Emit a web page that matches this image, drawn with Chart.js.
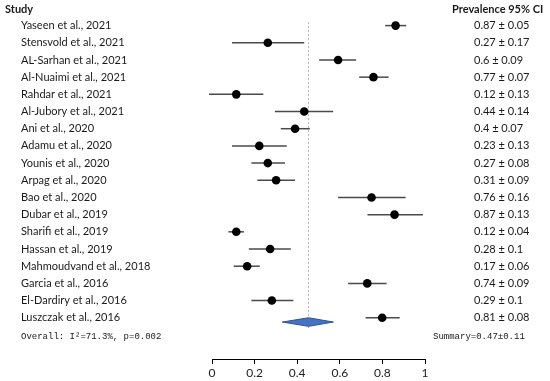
<!DOCTYPE html>
<html>
<head>
<meta charset="utf-8">
<script src="https://cdn.jsdelivr.net/npm/chart.js@4.4.0/dist/chart.umd.min.js"></script>
<style>
html, body { margin: 0; padding: 0; background: #fff; }
#wrap { width: 550px; height: 381px; }
</style>
</head>
<body>
<div id="wrap"><canvas id="forest"></canvas></div>
<script>
const studies = [
    'Yaseen et al., 2021',
    'Stensvold et al., 2021',
    'AL-Sarhan et al., 2021',
    'Al-Nuaimi et al., 2021',
    'Rahdar et al., 2021',
    'Al-Jubory et al., 2021',
    'Ani et al., 2020',
    'Adamu et al., 2020',
    'Younis et al., 2020',
    'Arpag et al., 2020',
    'Bao et al., 2020',
    'Dubar et al., 2019',
    'Sharifi et al., 2019',
    'Hassan et al., 2019',
    'Mahmoudvand et al., 2018',
    'Garcia et al., 2016',
    'El-Dardiry et al., 2016',
    'Luszczak et al., 2016'
];
const prevalence = [0.862, 0.262, 0.592, 0.758, 0.114, 0.433, 0.39, 0.222, 0.262, 0.301,
                    0.749, 0.857, 0.114, 0.273, 0.165, 0.729, 0.281, 0.799];
const ciLow  = [0.813, 0.094, 0.503, 0.691, -0.014, 0.295, 0.323, 0.094, 0.185, 0.213,
                0.592, 0.73, 0.077, 0.173, 0.102, 0.639, 0.185, 0.721];
const ciHigh = [0.912, 0.433, 0.677, 0.829, 0.241, 0.569, 0.459, 0.351, 0.343, 0.39,
                0.909, 0.99, 0.15, 0.37, 0.224, 0.82, 0.382, 0.881];
const ciLabels = [
    '0.87 ± 0.05', '0.27 ± 0.17', '0.6 ± 0.09', '0.77 ± 0.07', '0.12 ± 0.13',
    '0.44 ± 0.14', '0.4 ± 0.07', '0.23 ± 0.13', '0.27 ± 0.08', '0.31 ± 0.09',
    '0.76 ± 0.16', '0.87 ± 0.13', '0.12 ± 0.04', '0.28 ± 0.1', '0.17 ± 0.06',
    '0.74 ± 0.09', '0.29 ± 0.1', '0.81 ± 0.08'
];
const xTicks = [0, 0.2, 0.4, 0.6, 0.8, 1];

const summaryValue = 0.453;
const summaryLow = 0.33;
const summaryHigh = 0.57;
const summaryRow = 17.25;
const overallText = 'Overall: I\u00B2=71.3%, p=0.002';
const summaryText = 'Summary=0.47\u00B10.11';

const labelFont = '11px Lato';
const monoFont = '9px "Liberation Mono"';

// error bars, summary diamond and reference line, drawn under the points
const forestMarks = {
    id: 'forestMarks',
    beforeDatasetsDraw(chart) {
        const ctx = chart.ctx;
        const x = chart.scales.x;
        const y = chart.scales.y;
        ctx.save();

        // dotted reference line at the summary estimate
        ctx.strokeStyle = '#b8b8b8';
        ctx.lineWidth = 1;
        ctx.setLineDash([2, 2]);
        ctx.beginPath();
        ctx.moveTo(x.getPixelForValue(summaryValue), y.getPixelForValue(-0.2));
        ctx.lineTo(x.getPixelForValue(summaryValue), y.getPixelForValue(17.7));
        ctx.stroke();
        ctx.setLineDash([]);

        ctx.strokeStyle = '#4a4a4a';
        ctx.lineWidth = 1.5;
        studies.forEach((s, i) => {
            const py = y.getPixelForValue(i);
            ctx.beginPath();
            ctx.moveTo(x.getPixelForValue(ciLow[i]), py);
            ctx.lineTo(x.getPixelForValue(ciHigh[i]), py);
            ctx.stroke();
        });

        // diamond
        ctx.fillStyle = '#4472C4';
        ctx.strokeStyle = '#2F528F';
        ctx.lineWidth = 1;
        ctx.beginPath();
        ctx.moveTo(x.getPixelForValue(summaryLow), y.getPixelForValue(summaryRow));
        ctx.lineTo(x.getPixelForValue(summaryValue), y.getPixelForValue(summaryRow - 0.25));
        ctx.lineTo(x.getPixelForValue(summaryHigh), y.getPixelForValue(summaryRow));
        ctx.lineTo(x.getPixelForValue(summaryValue), y.getPixelForValue(summaryRow + 0.25));
        ctx.closePath();
        ctx.fill();
        ctx.stroke();
        ctx.restore();
    },
    afterDraw(chart) {
        const ctx = chart.ctx;
        const y = chart.scales.y;
        ctx.save();
        ctx.textBaseline = 'middle';
        ctx.fillStyle = '#1a1a1a';

        ctx.font = 'bold 11px Lato';
        ctx.textAlign = 'left';
        ctx.fillText('Study', 5, 9);
        ctx.fillText('Prevalence 95% CI', 452, 9);

        ctx.font = labelFont;
        studies.forEach((s, i) => {
            const py = y.getPixelForValue(i);
            ctx.fillText(s, 21, py);
            ctx.fillText(ciLabels[i], 474, py);
        });

        ctx.font = monoFont;
        ctx.fillText(overallText, 21, y.getPixelForValue(18.1));
        ctx.fillText(summaryText, 433, y.getPixelForValue(18.1));
        ctx.restore();
    }
};

new Chart(document.getElementById('forest'), {
    type: 'scatter',
    data: {
        datasets: [{
            data: studies.map((s, i) => ({ x: prevalence[i], y: i })),
            backgroundColor: '#000',
            borderWidth: 0,
            pointRadius: 4.3,
            pointHoverRadius: 4.3
        }]
    },
    options: {
        responsive: true,
        maintainAspectRatio: false,
        animation: false,
        layout: { padding: { left: 212, right: 125, top: 17, bottom: 0 } },
        plugins: { legend: { display: false }, tooltip: { enabled: false } },
        scales: {
            x: {
                type: 'linear',
                min: 0,
                max: 1,
                afterBuildTicks: (scale) => { scale.ticks = xTicks.map(v => ({ value: v })); },
                afterFit: (scale) => { scale.height = 22; },
                border: { color: '#000', width: 1 },
                grid: { drawOnChartArea: false, tickLength: 5, color: '#000' },
                ticks: {
                    color: '#222',
                    font: { family: 'Lato', size: 12 },
                    padding: 2,
                    callback: (v) => String(Math.round(v * 10) / 10)
                }
            },
            y: {
                type: 'linear',
                reverse: true,
                min: -0.5,
                max: 19.4,
                display: false
            }
        }
    },
    plugins: [forestMarks]
});
</script>
</body>
</html>
